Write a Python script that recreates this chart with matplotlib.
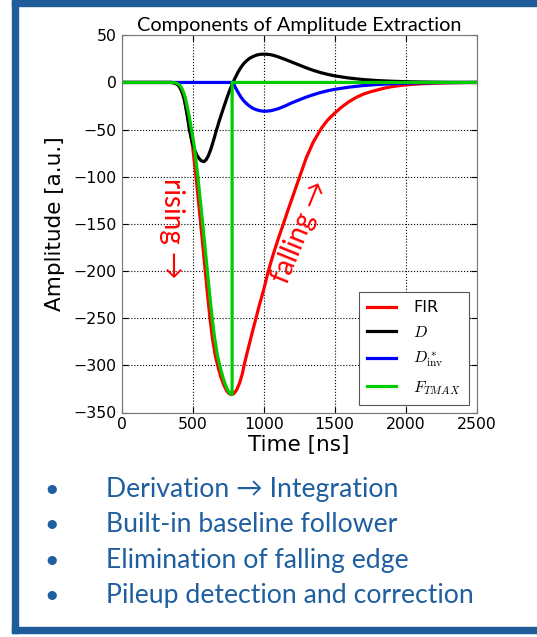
import matplotlib
matplotlib.use("Agg")
import matplotlib.pyplot as plt
from matplotlib.patches import Rectangle

# values
fir_t = [0, 350, 370, 385, 400, 415, 430, 440, 450, 465, 481, 500, 524, 557, 589, 605, 622, 640,
         660, 681, 700, 720, 740, 757, 772, 790, 810, 830, 850, 862, 880, 900, 920, 946,
         970, 1000, 1033, 1066, 1100, 1139, 1170, 1200, 1251, 1300, 1350, 1409, 1450, 1497,
         1550, 1600, 1650, 1700, 1750, 1800, 1850, 1900, 1950, 2000, 2100, 2200, 2300, 2400, 2500]
fir_v = [0, 0, -0.5, -1.5, -3, -6.5, -12, -17, -25, -36, -50, -68, -100, -150, -200, -225, -250, -272,
         -290, -303, -313, -321, -327, -330, -331, -330, -326, -319, -309, -300, -289, -277, -265, -250,
         -236, -220, -200, -183, -167, -150, -136, -123, -101, -80, -63, -48, -40, -33,
         -26, -20.5, -16, -12.5, -10, -8, -6, -4.5, -3.5, -2.5, -1.5, -0.8, -0.4, -0.2, 0]

d_t = [0, 350, 370, 385, 400, 415, 430, 440, 450, 463, 477, 490, 500, 515, 530, 545, 560, 580,
       595, 610, 630, 650, 669, 685, 700, 720, 740, 762, 784, 800, 820, 840, 860, 880, 900,
       925, 950, 975, 1000, 1025, 1050, 1075, 1100, 1150, 1200, 1250, 1300, 1350, 1400, 1450,
       1500, 1600, 1700, 1800, 1900, 2000, 2100, 2200, 2300, 2500]
d_v = [0, 0, -0.5, -1.5, -3, -6.5, -12, -17, -24, -36, -50, -59, -65, -72, -77, -80.5, -83, -84,
       -82, -78, -70, -60, -50, -42, -35, -26, -17, -8, 0, 5, 11, 16, 20, 23, 25.5,
       27.5, 29, 29.8, 30, 29.9, 29.4, 28.5, 27.3, 24.5, 21.5, 18.5, 15.5, 12.8, 10.5, 8.6,
       7, 4.7, 3.1, 2, 1.3, 0.8, 0.5, 0.3, 0.15, 0]

dinv_t = [0, 784, 800, 820, 840, 860, 880, 900, 925, 950, 975, 1000, 1025, 1050, 1075, 1100,
          1150, 1200, 1250, 1300, 1350, 1400, 1450, 1500, 1600, 1700, 1800, 1900, 2000, 2100,
          2200, 2300, 2500]
dinv_v = [0, 0, -5, -10.5, -15.5, -19.5, -22.5, -25, -27.5, -29, -30, -30.5, -30.4, -30, -29, -28,
          -25, -21.5, -18.5, -15.5, -13, -10.7, -8.8, -7.3, -5, -3.3, -2.2, -1.4, -0.9, -0.5,
          -0.3, -0.15, 0]

ftmax_t = [0, 360, 380, 395, 410, 425, 440, 450, 461, 476, 492, 512, 537, 571, 604, 620, 638, 656,
           675, 696, 714, 732, 750, 765, 778, 778, 2500]
ftmax_v = [0, 0, -0.5, -1.5, -3, -6.5, -12, -17, -25, -36, -50, -68, -100, -150, -200, -225, -250, -272,
           -290, -303, -313, -321, -327, -330, -331, 0, 0]

bullets = ["Derivation \u2192 Integration",
           "Built-in baseline follower",
           "Elimination of falling edge",
           "Pileup detection and correction"]

plt.rcParams['mathtext.fontset'] = 'cm'
plt.rcParams['font.family'] = ['DejaVu Sans']

W, H = 537, 637
fig = plt.figure(figsize=(W / 100, H / 100), dpi=100)

# slide frame
frame = '#1f5c99'
fig.patches.append(Rectangle((12 / W, 1 - 6 / H), 1, 6 / H, transform=fig.transFigure, color=frame))
fig.patches.append(Rectangle((12 / W, 1 - 633 / H), 6 / W, 633 / H, transform=fig.transFigure, color=frame))
fig.patches.append(Rectangle((12 / W, 1 - 633 / H), 1, 6 / H, transform=fig.transFigure, color=frame))

ax = fig.add_axes([121.6 / W, 1 - 412.5 / H, 355.1 / W, 377.2 / H])
ax.plot(fir_t, fir_v, color='#ff0000', lw=2.3, label='FIR')
ax.plot(d_t, d_v, color='black', lw=2.3, label='$D$')
ax.plot(dinv_t, dinv_v, color='#0000ff', lw=2.3, label='$D^*_{\\rm inv}$')
ax.plot(ftmax_t, ftmax_v, color='#00cc00', lw=2.3, label='$F_{TMAX}$')

ax.set_xlim(0, 2500)
ax.set_ylim(-350, 50)
ax.set_xticks([0, 500, 1000, 1500, 2000, 2500])
ax.set_yticks([-350, -300, -250, -200, -150, -100, -50, 0, 50])
ax.grid(True, color='black', linestyle=':', linewidth=0.8)
ax.tick_params(direction='in', top=True, right=True, labelsize=11.3, length=4)
for s in ax.spines.values():
    s.set_color('#777777')
ax.set_xlabel('Time [ns]', fontsize=15.5, labelpad=2)
ax.set_ylabel('Amplitude [a.u.]', fontsize=15.5, labelpad=6)
ax.set_title('Components of Amplitude Extraction', family='Lato', fontsize=14.3, pad=3)

leg = ax.legend(loc='lower right', fontsize=11.5, handlelength=1.8, handletextpad=1.1,
                labelspacing=0.6, borderpad=0.5, fancybox=False, framealpha=1, edgecolor='#555555')
leg.get_frame().set_linewidth(0.8)

ax.text(355, -155, 'rising \u2192', rotation=-90, color='#ff0000', family=['Lato', 'DejaVu Sans'],
        fontsize=20, ha='center', va='center')
ax.text(1255, -159, 'falling \u2192', rotation=68, color='#ff0000', family=['Lato', 'DejaVu Sans'],
        fontsize=20, ha='center', va='center', rotation_mode='anchor')

for i, b in enumerate(bullets):
    y = 1 - (489 + i * 35.6) / H
    fig.text(44 / W, y, '\u2022', color='#1f5fa0', family='Lato', fontsize=18, va='center')
    fig.text(106 / W, y, b, color='#1f5fa0', family=['Lato', 'DejaVu Sans'], fontsize=19.2, va='center')

fig.savefig('out.png', dpi=100)
